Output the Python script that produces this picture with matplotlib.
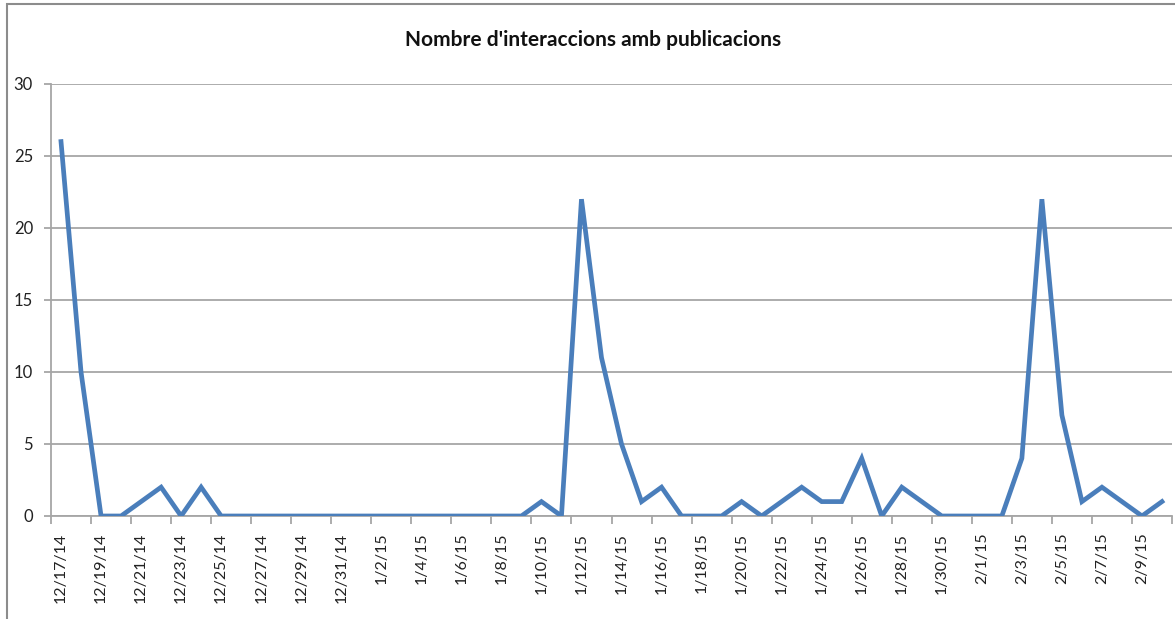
import matplotlib.pyplot as plt
from matplotlib.patches import Rectangle
import numpy as np
import pandas as pd

plt.rcParams['font.family'] = ['Lato', 'DejaVu Sans']

title = "Nombre d'interaccions amb publicacions"
start_date = '2014-12-17'
end_date = '2015-02-10'
interactions = [26, 10, 0, 0, 1, 2, 0, 2, 0, 0,
                0, 0, 0, 0, 0, 0, 0, 0, 0, 0,
                0, 0, 0, 0, 1, 0, 22, 11, 5, 1,
                2, 0, 0, 0, 1, 0, 1, 2, 1, 1,
                4, 0, 2, 1, 0, 0, 0, 0, 4, 22,
                7, 1, 2, 1, 0, 1]

dates = pd.date_range(start_date, end_date, freq='D')
labels = [f"{d.month}/{d.day}/{d.strftime('%y')}" for d in dates]
x = np.arange(len(dates))

W, H = 1175, 619
fig = plt.figure(figsize=(W / 100, H / 100), dpi=100)
ax = fig.add_axes([51 / W, 1 - 516 / H, (1172 - 51) / W, (516 - 84) / H])

# outer chart border (only top and left visible in the crop)
fig.patches.append(Rectangle((7 / W, -0.2), 1.2, 1.2 - 4 / H,
                             transform=fig.transFigure, fill=False,
                             edgecolor='#8c8c8c', linewidth=1.5))

grid_col = '#a6a6a6'
ax.plot(x, interactions, color='#4a7ebb', linewidth=3.4, solid_joinstyle='miter', zorder=3)

ax.set_xlim(-0.5, len(x) - 0.5)
ax.set_ylim(0, 30)
ax.set_yticks(range(0, 31, 5))
ax.yaxis.grid(True, color=grid_col, linewidth=1.3)
ax.set_axisbelow(True)

# tick marks between categories, labels on every second category
ax.set_xticks(np.arange(-0.5, len(x), 2))
ax.set_xticklabels([])
ax.set_xticks(x[::2], minor=True)
ax.set_xticklabels(labels[::2], minor=True, rotation=90, fontsize=11.5, color='#222222')
ax.tick_params(axis='x', which='major', length=6, width=1.3, color=grid_col)
ax.tick_params(axis='x', which='minor', length=0, pad=12)
ax.tick_params(axis='y', length=5, width=1.3, color=grid_col, labelsize=12,
               labelcolor='#222222', pad=8)

for side in ['top', 'right']:
    ax.spines[side].set_visible(False)
for side in ['left', 'bottom']:
    ax.spines[side].set_color(grid_col)
    ax.spines[side].set_linewidth(1.3)

fig.text(593 / W, 1 - 40 / H, title, ha='center', va='center',
         fontsize=15, fontweight='bold', color='#111111')

fig.savefig('out.png', dpi=100)
